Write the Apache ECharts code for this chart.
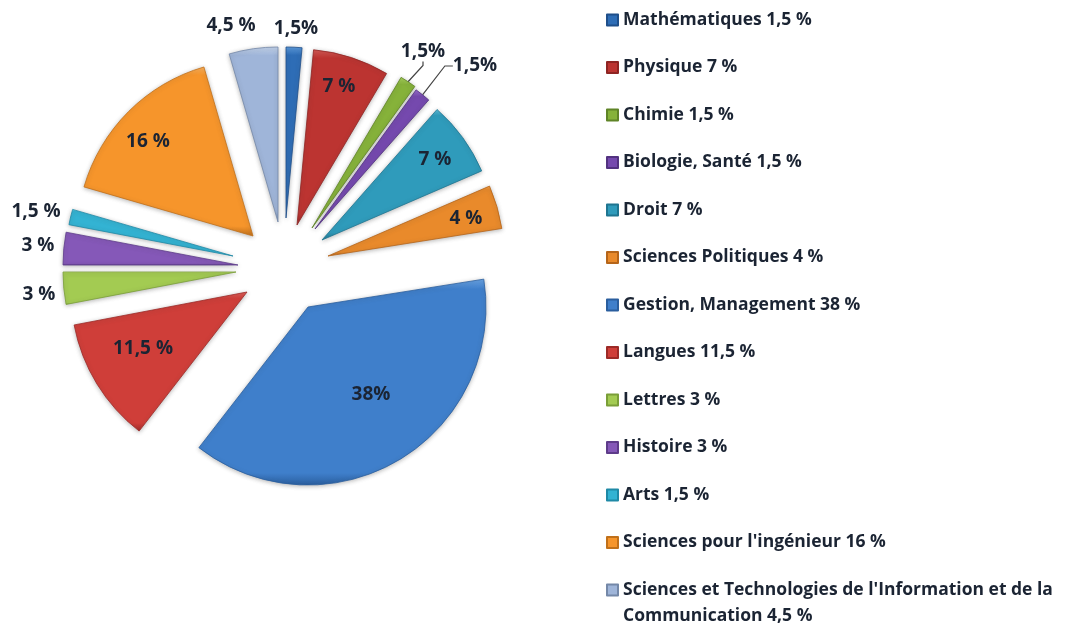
<!DOCTYPE html>
<html><head><meta charset="utf-8">
<style>html,body{margin:0;padding:0;background:#fff}#c{width:1067px;height:630px}</style>
<script src="https://cdn.jsdelivr.net/npm/echarts@6/dist/echarts.min.js"></script>
</head><body><div id="c"></div>
<script>
const categories = ["Mathématiques","Physique","Chimie","Biologie, Santé","Droit","Sciences Politiques","Gestion, Management","Langues","Lettres","Histoire","Arts","Sciences pour l'ingénieur","Sciences et Technologies de l'Information et de la\nCommunication"];
const values = [1.5,7,1.5,1.5,7,4,38,11.5,3,3,1.5,16,4.5];
const legendValues = ["1,5 %","7 %","1,5 %","1,5 %","7 %","4 %","38 %","11,5 %","3 %","3 %","1,5 %","16 %","4,5 %"];
const sliceLabels = ["1,5%","7 %","1,5%","1,5%","7 %","4 %","38%","11,5 %","3 %","3 %","1,5 %","16 %","4,5 %"];

// styling / layout (exploded slices each have their own apex)
const apex = [[286,218],[297,225],[312,228],[315,229],[322,240],[328,256],[308,307],[247,292],[236,272],[238,265],[233,256],[253,236],[278,222]];
const radii = [171,176,175,172,174,176,178,176,173,175,167,176,175];
const labelPos = [[296,29],[339,87],[423,52],[475,66],[435,160],[466,219],[371,395],[143,349],[39,295],[38,246],[36,212],[148,142],[231,26]];
const palette = [
 ['#5C9BDD','#2E6DB6','#1F4F8A'],['#D65A55','#BC3431','#8E2523'],['#A8D25C','#86B23A','#5F8427'],['#9A6FD0','#7549AE','#523280'],
 ['#5FBEDA','#2F9BBB','#1F7590'],['#F7A850','#E98A2B','#B5651A'],['#6AA5E6','#3F7FCB','#2A5E9E'],['#E0605A','#CF3E39','#9C2A27'],
 ['#CBE77E','#A3CB52','#7A9E38'],['#A77FDA','#8558B8','#5E3C8A'],['#6AD6EE','#33B3D3','#1F89A6'],['#FCB25C','#F6952B','#C0701A'],
 ['#C4D4EC','#9FB5D9','#7488A8']];
const FONT = '"Open Sans"';

function grad(p){return {type:'linear',x:0,y:0,x2:0,y2:1,colorStops:[{offset:0,color:p[0]},{offset:.05,color:p[1]},{offset:.94,color:p[1]},{offset:1,color:p[2]}]};}

let cum = 0;
const series = values.map((v,i)=>{
  const start = 90 - cum*3.6; cum += v;
  const leader = i===2||i===3;
  return {
    type:'pie', silent:true, animation:false, center:apex[i], radius:[0,radii[i]], startAngle:start, clockwise:true,
    avoidLabelOverlap:false, emphasis:{disabled:true}, z:2,
    labelLayout:(params)=> params.dataIndex===0 ? {x:labelPos[i][0],y:labelPos[i][1],align:'center',verticalAlign:'middle'} : {},
    data:[
      {value:v,name:categories[i]+' '+legendValues[i],
       itemStyle:{color:grad(palette[i]),borderColor:palette[i][2],borderWidth:.8,shadowBlur:4,shadowColor:'rgba(60,60,60,.35)',shadowOffsetY:1},
       label:{show:true,position:leader?'outside':'inside',formatter:sliceLabels[i],fontFamily:FONT,fontWeight:700,fontSize:19,color:'#1b2433'},
       labelLine:{show:leader,length:i===2?10:12,length2:i===2?4:8,lineStyle:{color:'#444',width:1.2}}},
      {value:100-v,name:'_',itemStyle:{color:'rgba(0,0,0,0)',borderWidth:0},label:{show:false},labelLine:{show:false}}
    ]
  };
});

const legendNames = categories.map((c,i)=>c+' '+legendValues[i]);
const baseLegend = {orient:'vertical',left:606,height:760,padding:0,icon:'rect',itemWidth:11,itemHeight:11,selectedMode:false};
const legendText = {fontFamily:FONT,fontWeight:700,fontSize:17.5,color:'#1b2433'};

echarts.init(document.getElementById('c'),null,{renderer:'canvas'}).setOption({
  backgroundColor:'#fff',
  animation:false,
  tooltip:{show:false},
  legend:[
    {...baseLegend,top:9.5,itemGap:26.5,data:legendNames.slice(0,12),textStyle:{...legendText,lineHeight:21}},
    {...baseLegend,top:551,data:legendNames.slice(12),formatter:n=>' \n'+n,textStyle:{...legendText,lineHeight:26}}
  ],
  series
});
</script></body></html>
